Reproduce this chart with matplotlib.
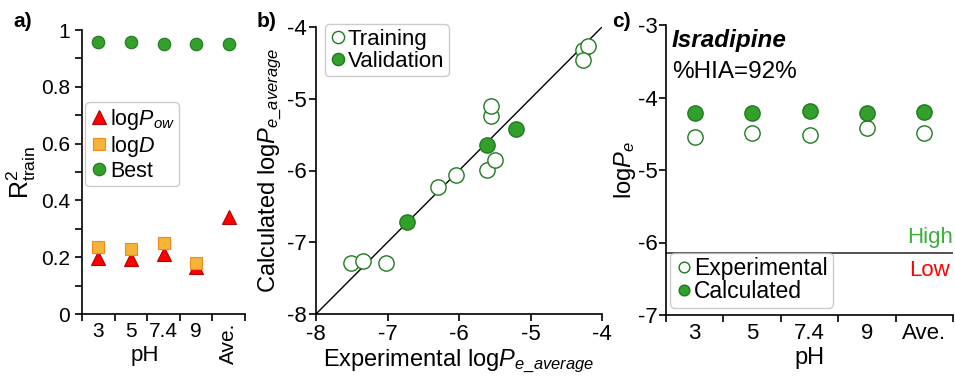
import numpy as np
import matplotlib
matplotlib.use("Agg")
import matplotlib.pyplot as plt

plt.rcParams['font.family'] = ['Liberation Sans', 'DejaVu Sans']
plt.rcParams['mathtext.fontset'] = 'custom'
plt.rcParams['mathtext.rm'] = 'Liberation Sans'
plt.rcParams['mathtext.it'] = 'Liberation Sans:italic'
plt.rcParams['mathtext.bf'] = 'Liberation Sans:bold'
plt.rcParams['axes.linewidth'] = 1.2
plt.rcParams['axes.unicode_minus'] = False

# ---- data ----
ph_labels = ['3', '5', '7.4', '9', 'Ave.']
r2_logpow = [0.196, 0.193, 0.211, 0.167, 0.343]
r2_logd = [0.235, 0.228, 0.249, 0.181, np.nan]
r2_best = [0.959, 0.959, 0.950, 0.950, 0.950]

train_exp = [-7.51, -7.34, -7.02, -6.30, -6.04, -5.61, -5.49, -5.55, -5.55, -4.26, -4.19, -4.26]
train_calc = [-7.29, -7.26, -7.29, -6.23, -6.06, -5.99, -5.86, -5.24, -5.10, -4.32, -4.26, -4.46]
valid_exp = [-6.73, -5.61, -5.20]
valid_calc = [-6.72, -5.65, -5.42]

isr_exp = [-4.54, -4.49, -4.52, -4.42, -4.49]
isr_calc = [-4.21, -4.22, -4.19, -4.21, -4.20]
hia_threshold = -6.14

GREEN = '#33a02c'
GREEN_E = '#1f7a1f'
RED = '#ff0000'
RED_E = '#b00000'
ORANGE = '#f5b437'
ORANGE_E = '#f08a1c'

fig = plt.figure(figsize=(9.55, 3.76), dpi=100)
W, H = 955, 376
def ax_rect(l, r, t, b):
    return [l / W, 1 - b / H, (r - l) / W, (b - t) / H]

axa = fig.add_axes(ax_rect(82, 245, 30, 314))
axb = fig.add_axes(ax_rect(316, 602, 27, 314))
axc = fig.add_axes(ax_rect(666, 953, 25, 315))

for ax in (axa, axb, axc):
    ax.spines['top'].set_visible(False)
    ax.spines['right'].set_visible(False)
    ax.tick_params(direction='out', width=1.2, length=5, colors='black')

# ---- panel a ----
xa = np.arange(len(ph_labels))
axa.plot(xa, r2_logpow, linestyle='none', marker='^', ms=10, mfc=RED, mec=RED_E, mew=0.8, label=r'log$P_{ow}$', clip_on=False)
axa.plot(xa, r2_logd, linestyle='none', marker='s', ms=9, mfc=ORANGE, mec=ORANGE_E, mew=0.8, label=r'log$D$', clip_on=False)
axa.plot(xa, r2_best, linestyle='none', marker='o', ms=9, mfc=GREEN, mec=GREEN_E, mew=0.8, label='Best', clip_on=False)
axa.set_xlim(-0.5, 4.5)
axa.set_ylim(0, 1)
axa.set_yticks([0, 0.2, 0.4, 0.6, 0.8, 1.0])
axa.set_yticklabels(['0', '0.2', '0.4', '0.6', '0.8', '1'])
axa.set_yticks(np.arange(0.1, 1.0, 0.2), minor=True)
axa.set_xticks(xa)
axa.set_xticklabels(ph_labels)
axa.set_xticks(np.arange(-0.5, 5.0, 1.0), minor=True)
axa.tick_params(axis='x', which='major', length=0, pad=6)
axa.tick_params(axis='both', which='minor', direction='out', width=1.2, length=5)
axa.tick_params(axis='both', labelsize=15)
axa.get_xticklabels()[-1].set_rotation(90)
axa.get_xticklabels()[-1].set_va('top')
axa.set_xlabel('pH', fontsize=16)
axa.xaxis.set_label_coords(0.385, -0.11)
axa.set_ylabel(r'R$^2_{\mathrm{train}}$', fontsize=18, labelpad=2)
lega = axa.legend(loc='upper left', bbox_to_anchor=(0.02, 0.745), fontsize=15.5,
                  handletextpad=0.05, handlelength=0.9, borderpad=0.2, labelspacing=0.1,
                  borderaxespad=0, frameon=True, fancybox=True)
lega.get_frame().set_edgecolor('#c0c0c0')
lega.get_frame().set_linewidth(1.0)

# ---- panel b ----
axb.plot([-8, -4], [-8, -4], color='black', lw=1.0, zorder=1)
axb.plot(train_exp, train_calc, linestyle='none', marker='o', ms=11, mfc='white', mec=GREEN_E, mew=1.0, label='Training', zorder=2)
axb.plot(valid_exp, valid_calc, linestyle='none', marker='o', ms=11, mfc=GREEN, mec=GREEN_E, mew=1.0, label='Validation', zorder=3)
axb.set_xlim(-8, -4)
axb.set_ylim(-8, -4)
axb.set_xticks([-8, -7, -6, -5, -4])
axb.set_yticks([-8, -7, -6, -5, -4])
axb.tick_params(axis='both', labelsize=16, pad=2)
axb.set_xlabel(r'Experimental log$P_{e\_average}$', fontsize=17, labelpad=2)
axb.set_ylabel(r'Calculated log$P_{e\_average}$', fontsize=17, labelpad=2)
legb = axb.legend(loc='upper left', bbox_to_anchor=(0.03, 1.01), fontsize=16,
                  handletextpad=0.05, handlelength=0.8, borderpad=0.2, labelspacing=0.05,
                  borderaxespad=0, markerscale=0.8, fancybox=True)
legb.get_frame().set_edgecolor('#c0c0c0')
legb.get_frame().set_linewidth(1.0)

# ---- panel c ----
xc = np.arange(len(ph_labels))
axc.axhline(hia_threshold, color='#333333', lw=1.2, zorder=1)
axc.plot(xc, isr_exp, linestyle='none', marker='o', ms=11, mfc='white', mec=GREEN_E, mew=1.0, label='Experimental', zorder=2)
axc.plot(xc, isr_calc, linestyle='none', marker='o', ms=11, mfc=GREEN, mec=GREEN_E, mew=1.0, label='Calculated', zorder=3)
axc.set_xlim(-0.5, 4.5)
axc.set_ylim(-7, -3)
axc.set_yticks([-7, -6, -5, -4, -3])
axc.set_xticks(xc)
axc.set_xticklabels(ph_labels)
axc.set_xticks(np.arange(-0.5, 5.0, 1.0), minor=True)
axc.tick_params(axis='x', which='major', length=0, pad=6)
axc.tick_params(axis='x', which='minor', direction='out', width=1.2, length=5)
axc.tick_params(axis='both', labelsize=16)
axc.tick_params(axis='y', pad=1)
axc.set_xlabel('pH', fontsize=17, labelpad=2)
axc.set_ylabel(r'log$P_{e}$', fontsize=17, labelpad=0)
axc.text(0.02, 0.985, 'Isradipine', transform=axc.transAxes, fontsize=17.5,
         fontweight='bold', fontstyle='italic', va='top', ha='left')
axc.text(0.02, 0.875, '%HIA=92%', transform=axc.transAxes, fontsize=17.5, va='top', ha='left')
axc.text(1.0, hia_threshold + 0.06, 'High', color='#3cb03c', fontsize=16, ha='right', va='bottom',
         transform=axc.get_yaxis_transform())
axc.text(0.99, hia_threshold - 0.1, 'Low', color='#ff0000', fontsize=16, ha='right', va='top',
         transform=axc.get_yaxis_transform())
legc = axc.legend(loc='lower left', bbox_to_anchor=(0.015, 0.025), fontsize=16.5,
                  handletextpad=0.05, handlelength=0.8, borderpad=0.2, labelspacing=0.0,
                  borderaxespad=0, markerscale=0.7, fancybox=True)
legc.get_frame().set_edgecolor('#c0c0c0')
legc.get_frame().set_linewidth(1.0)

# panel labels
fig.text(13 / W, 1 - 12 / H, 'a)', fontsize=15, fontweight='bold', va='top', ha='left')
fig.text(257 / W, 1 - 12 / H, 'b)', fontsize=15, fontweight='bold', va='top', ha='left')
fig.text(612 / W, 1 - 12 / H, 'c)', fontsize=15, fontweight='bold', va='top', ha='left')

fig.savefig('out.png', dpi=100)
